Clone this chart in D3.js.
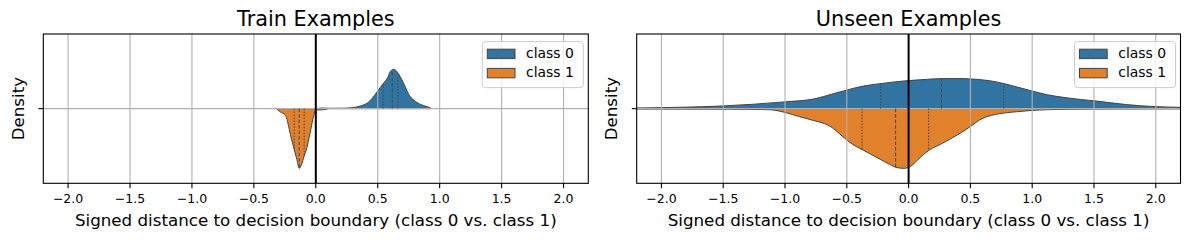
<!DOCTYPE html>
<html lang="en">
<head>
<meta charset="UTF-8">
<title>Signed distance violins</title>
<script src="https://d3js.org/d3.v7.min.js"></script>
<style>
  body { margin: 0; background: #fff; }
  svg { display: block; font-family: 'DejaVu Sans', sans-serif; }
</style>
</head>
<body>
<div id="chart"></div>
<script>
  const classes = ['class 0', 'class 1']
  const colors = ['#3274a1', '#e1812c']
  const xTicks = [-2.0, -1.5, -1.0, -0.5, 0.0, 0.5, 1.0, 1.5, 2.0]
  const panelTitles = ['Train Examples', 'Unseen Examples']

  // train examples, class 0 (density)
  const trainX0 = [0.01, 0.05, 0.10, 0.20, 0.30, 0.36, 0.42, 0.47, 0.50, 0.52, 0.55, 0.58, 0.60, 0.625, 0.645, 0.67, 0.70, 0.725, 0.75, 0.79, 0.845, 0.90, 0.93]
  const trainD0 = [0.02, 0.07, 0.05, 0.05, 0.12, 0.32, 0.70, 1.49, 2.08, 2.47, 3.05, 3.64, 4.31, 4.61, 4.50, 4.03, 3.25, 2.47, 1.68, 1.02, 0.50, 0.23, 0.05]
  const trainQ0 = [0.544, 0.617, 0.662]
  // train examples, class 1
  const trainX1 = [-0.315, -0.308, -0.276, -0.249, -0.233, -0.214, -0.196, -0.174, -0.153, -0.134, -0.115, -0.094, -0.072, -0.054, -0.040, -0.027, -0.013, -0.003, 0.027, 0.067, 0.094]
  const trainD1 = [0.04, 0.15, 0.47, 0.70, 1.26, 2.43, 3.60, 4.78, 5.95, 7.00, 6.54, 5.55, 4.58, 3.40, 2.43, 1.44, 0.67, 0.15, 0.15, 0.12, 0.04]
  const trainQ1 = [-0.174, -0.134, -0.094]

  // unseen examples, class 0
  const testX0 = [-2.6, -2.19, -1.507, -1.005, -0.762, -0.610, -0.503, -0.367, -0.230, -0.093, -0.002, 0.151, 0.272, 0.424, 0.546, 0.668, 0.774, 0.881, 1.002, 1.124, 1.246, 1.398, 1.504, 1.641, 1.763, 2.006, 2.204, 2.6]
  const testD0 = [0.004, 0.013, 0.050, 0.125, 0.181, 0.275, 0.342, 0.417, 0.462, 0.499, 0.518, 0.542, 0.555, 0.555, 0.542, 0.511, 0.462, 0.398, 0.324, 0.256, 0.211, 0.168, 0.144, 0.107, 0.075, 0.037, 0.024, 0.006]
  const testQ0 = [-0.226, 0.266, 0.770]
  // unseen examples, class 1
  const testX1 = [-2.6, -2.2, -1.5, -1.13, -1.0, -0.88, -0.76, -0.70, -0.64, -0.58, -0.52, -0.45, -0.367, -0.306, -0.23, -0.154, -0.093, -0.032, 0.029, 0.075, 0.166, 0.272, 0.394, 0.5, 0.576, 0.668, 0.774, 0.881, 1.0, 1.25, 1.76, 2.2]
  const testD1 = [0.002, 0.006, 0.009, 0.019, 0.069, 0.150, 0.224, 0.262, 0.318, 0.421, 0.542, 0.664, 0.767, 0.842, 0.935, 1.029, 1.090, 1.103, 1.047, 0.941, 0.767, 0.641, 0.486, 0.331, 0.206, 0.125, 0.080, 0.056, 0.032, 0.013, 0.004, 0.001]
  const testQ1 = [-0.377, -0.105, 0.162]

  const width = 1189
  const height = 240
  const axTop = 34
  const axBottom = 183.3
  const edge = '#444444'
  const gridColor = '#b0b0b0'

  const panels = [
    { title: panelTitles[0], left: 43.3, right: 588.3,
      series: [{ xs: trainX0, dens: trainD0, q: trainQ0 }, { xs: trainX1, dens: trainD1, q: trainQ1 }] },
    { title: panelTitles[1], left: 636.7, right: 1180.5,
      series: [{ xs: testX0, dens: testD0, q: testQ0 }, { xs: testX1, dens: testD1, q: testQ1 }] }
  ]

  const svg = d3.select('#chart').append('svg')
    .attr('width', width)
    .attr('height', height)

  svg.append('rect').attr('width', width).attr('height', height).attr('fill', '#fff')

  // density at a value, linear between the read points
  function densAt (xs, dens, v) {
    const i = d3.bisectLeft(xs, v)
    if (i <= 0) return dens[0]
    if (i >= xs.length) return dens[dens.length - 1]
    const t = (v - xs[i - 1]) / (xs[i] - xs[i - 1])
    return dens[i - 1] + t * (dens[i] - dens[i - 1])
  }

  panels.forEach((p, pi) => {
    const g = svg.append('g')
    const x = d3.scaleLinear().domain([-2.2, 2.2]).range([p.left, p.right])
    const y = d3.scaleLinear().domain([-0.5, 0.5]).range([axTop, axBottom])
    const dMax = d3.max(p.series, s => d3.max(s.dens))
    const w = d3.scaleLinear().domain([0, dMax]).range([0, 0.4])

    const clipId = 'clip' + pi
    svg.append('clipPath').attr('id', clipId)
      .append('rect')
      .attr('x', p.left).attr('y', axTop)
      .attr('width', p.right - p.left).attr('height', axBottom - axTop)

    const plot = g.append('g').attr('clip-path', 'url(#' + clipId + ')')

    // split violins: class 0 above the centre, class 1 below
    p.series.forEach((s, i) => {
      const sign = i === 0 ? -1 : 1
      const pts = s.xs.map((v, j) => [v, s.dens[j]])
      const area = d3.area()
        .x(d => x(d[0]))
        .y0(y(0))
        .y1(d => y(sign * w(d[1])))
        .curve(d3.curveMonotoneX)
      plot.append('path')
        .attr('d', area(pts))
        .attr('fill', colors[i])
        .attr('stroke', edge)
        .attr('stroke-width', 1)
        .attr('stroke-linejoin', 'round')
    })

    // grid above the violins (matplotlib zorder)
    plot.selectAll('.vgrid').data(xTicks).enter().append('line')
      .attr('x1', d => x(d)).attr('x2', d => x(d))
      .attr('y1', axTop).attr('y2', axBottom)
      .attr('stroke', gridColor).attr('stroke-width', 1.1)
    plot.append('line')
      .attr('x1', p.left).attr('x2', p.right)
      .attr('y1', y(0)).attr('y2', y(0))
      .attr('stroke', gridColor).attr('stroke-width', 1.1)

    // quartile lines
    p.series.forEach((s, i) => {
      const sign = i === 0 ? -1 : 1
      s.q.forEach((qv, k) => {
        plot.append('line')
          .attr('x1', x(qv)).attr('x2', x(qv))
          .attr('y1', y(0))
          .attr('y2', y(sign * w(densAt(s.xs, s.dens, qv))))
          .attr('stroke', edge)
          .attr('stroke-width', 1)
          .attr('stroke-dasharray', k === 1 ? '3.5,2' : '1.5,1.5')
      })
    })

    // decision boundary
    plot.append('line')
      .attr('x1', x(0)).attr('x2', x(0))
      .attr('y1', axTop).attr('y2', axBottom)
      .attr('stroke', '#000').attr('stroke-width', 2)

    // frame
    g.append('rect')
      .attr('x', p.left).attr('y', axTop)
      .attr('width', p.right - p.left).attr('height', axBottom - axTop)
      .attr('fill', 'none').attr('stroke', '#000').attr('stroke-width', 1.1)

    // x ticks
    const fmt = d3.format('.1f')
    g.selectAll('.xtick').data(xTicks).enter().append('line')
      .attr('x1', d => x(d)).attr('x2', d => x(d))
      .attr('y1', axBottom).attr('y2', axBottom + 4.9)
      .attr('stroke', '#000').attr('stroke-width', 1.1)
    g.selectAll('.xlab').data(xTicks).enter().append('text')
      .attr('x', d => x(d)).attr('y', 203)
      .attr('text-anchor', 'middle')
      .style('font-size', '12.5px')
      .text(d => fmt(d))

    // y tick (single category, empty label)
    g.append('line')
      .attr('x1', p.left - 4.9).attr('x2', p.left)
      .attr('y1', y(0)).attr('y2', y(0))
      .attr('stroke', '#000').attr('stroke-width', 1.1)

    const cx = (p.left + p.right) / 2
    g.append('text')
      .attr('x', cx).attr('y', 225.7)
      .attr('text-anchor', 'middle')
      .style('font-size', '16.7px')
      .text('Signed distance to decision boundary (class 0 vs. class 1)')

    g.append('text')
      .attr('transform', `translate(${p.left - 19.5}, ${(axTop + axBottom) / 2}) rotate(-90)`)
      .attr('text-anchor', 'middle')
      .style('font-size', '16.7px')
      .text('Density')

    g.append('text')
      .attr('x', cx).attr('y', 25.7)
      .attr('text-anchor', 'middle')
      .style('font-size', '20.8px')
      .text(p.title)

    // legend
    const lw = 101
    const lh = 46
    const lx = p.right - 5 - lw
    const ly = axTop + 7.6
    const leg = g.append('g').attr('transform', `translate(${lx}, ${ly})`)
    leg.append('rect')
      .attr('width', lw).attr('height', lh)
      .attr('rx', 3).attr('ry', 3)
      .attr('fill', 'rgba(255,255,255,0.8)')
      .attr('stroke', '#cccccc').attr('stroke-width', 1)
    classes.forEach((c, i) => {
      leg.append('rect')
        .attr('x', 5).attr('y', 7.6 + i * 19.2)
        .attr('width', 27.7).attr('height', 9.4)
        .attr('fill', colors[i]).attr('stroke', edge).attr('stroke-width', 1)
      leg.append('text')
        .attr('x', 43.8).attr('y', 16.3 + i * 19.2)
        .style('font-size', '13.9px')
        .text(c)
    })
  })
</script>
</body>
</html>
